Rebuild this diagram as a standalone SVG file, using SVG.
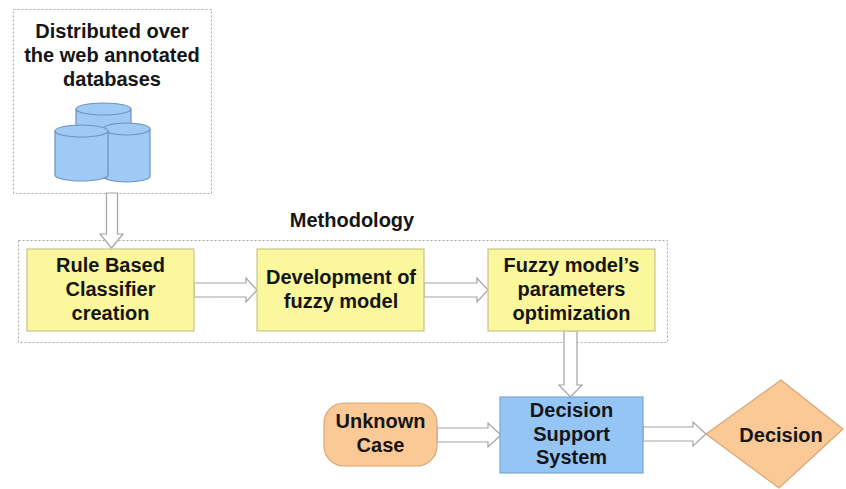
<svg xmlns="http://www.w3.org/2000/svg" width="846" height="489" viewBox="0 0 846 489">
<style>
.t{font-family:"Liberation Sans",Arial,sans-serif;font-weight:bold;font-size:20px;fill:#151515;text-anchor:middle}
.dash{fill:none;stroke:#a8a8a8;stroke-width:1;stroke-dasharray:2,2}
.yel{fill:#fbf79c;stroke:#c9c58c;stroke-width:1.2}
.blue{fill:#95c5f5;stroke:#7fa6cf;stroke-width:1.2}
.org{fill:#fbc996;stroke:#d7a676;stroke-width:1.2}
.cyl{fill:#9fcaf5;stroke:#6f92bd;stroke-width:1.2}
.arr{fill:#ffffff;stroke:#a3a3a3;stroke-width:1.2;stroke-linejoin:miter}
</style>
<rect width="846" height="489" fill="#ffffff"/>

<g id="databases">
<rect class="dash" x="13.5" y="9.5" width="198" height="184"/>
<text class="t" x="112" y="38">Distributed over</text>
<text class="t" x="112" y="62">the web annotated</text>
<text class="t" x="112" y="86">databases</text>
<g id="cylinders">
<path class="cyl" d="M76,109 L76,160 A27.5,6 0 0 0 131,160 L131,109 A27.5,6 0 0 0 76,109 Z"/>
<path class="cyl" d="M76,109 A27.5,6 0 0 0 131,109"/>
<path class="cyl" d="M103,129 L103,176 A23.5,6 0 0 0 150,176 L150,129 A23.5,6 0 0 0 103,129 Z"/>
<path class="cyl" d="M103,129 A23.5,6 0 0 0 150,129"/>
<path class="cyl" d="M55,131 L55,175 A26.5,6 0 0 0 108,175 L108,131 A26.5,6 0 0 0 55,131 Z"/>
<path class="cyl" d="M55,131 A26.5,6 0 0 0 108,131"/>
</g>
</g>

<g id="methodology">
<rect class="dash" x="18.5" y="240.5" width="649" height="102"/>
<text class="t" x="352" y="227">Methodology</text>
</g>

<g id="connectors">
<polygon class="arr" points="106.5,193 117.5,193 117.5,234 123,234 111.5,248 100,234 106.5,234"/>
<polygon class="arr" points="194,283 246,283 246,278 257,290 246,302 246,297 194,297"/>
<polygon class="arr" points="424,283 477,283 477,278 488,290 477,302 477,297 424,297"/>
<polygon class="arr" points="564,331 577,331 577,385 582,385 570.5,397 559,385 564,385"/>
<polygon class="arr" points="437,428 488,428 488,423 501,435 488,447 488,442 437,442"/>
<polygon class="arr" points="643,427 693,427 693,422 706,434 693,446 693,441 643,441"/>
</g>

<g id="rule-based">
<rect class="yel" x="27" y="249" width="167" height="82"/>
<text class="t" x="110.5" y="272">Rule Based</text>
<text class="t" x="110.5" y="296">Classifier</text>
<text class="t" x="110.5" y="320">creation</text>
</g>

<g id="development">
<rect class="yel" x="257" y="249" width="167" height="82"/>
<text class="t" x="341" y="284">Development of</text>
<text class="t" x="341" y="308">fuzzy model</text>
</g>

<g id="optimization">
<rect class="yel" x="488" y="249" width="167" height="82"/>
<text class="t" x="571.5" y="272">Fuzzy model’s</text>
<text class="t" x="571.5" y="296">parameters</text>
<text class="t" x="571.5" y="320">optimization</text>
</g>

<g id="unknown-case">
<rect class="org" x="324" y="403" width="113" height="63" rx="20" ry="20"/>
<text class="t" x="380.5" y="428">Unknown</text>
<text class="t" x="380.5" y="452">Case</text>
</g>

<g id="dss">
<rect class="blue" x="500" y="397" width="143" height="76"/>
<text class="t" x="571.5" y="417">Decision</text>
<text class="t" x="571.5" y="441">Support</text>
<text class="t" x="571.5" y="464">System</text>
</g>

<g id="decision">
<polygon class="org" points="781,380 843,429 779,488 706,434"/>
<text class="t" x="781" y="442">Decision</text>
</g>
</svg>
